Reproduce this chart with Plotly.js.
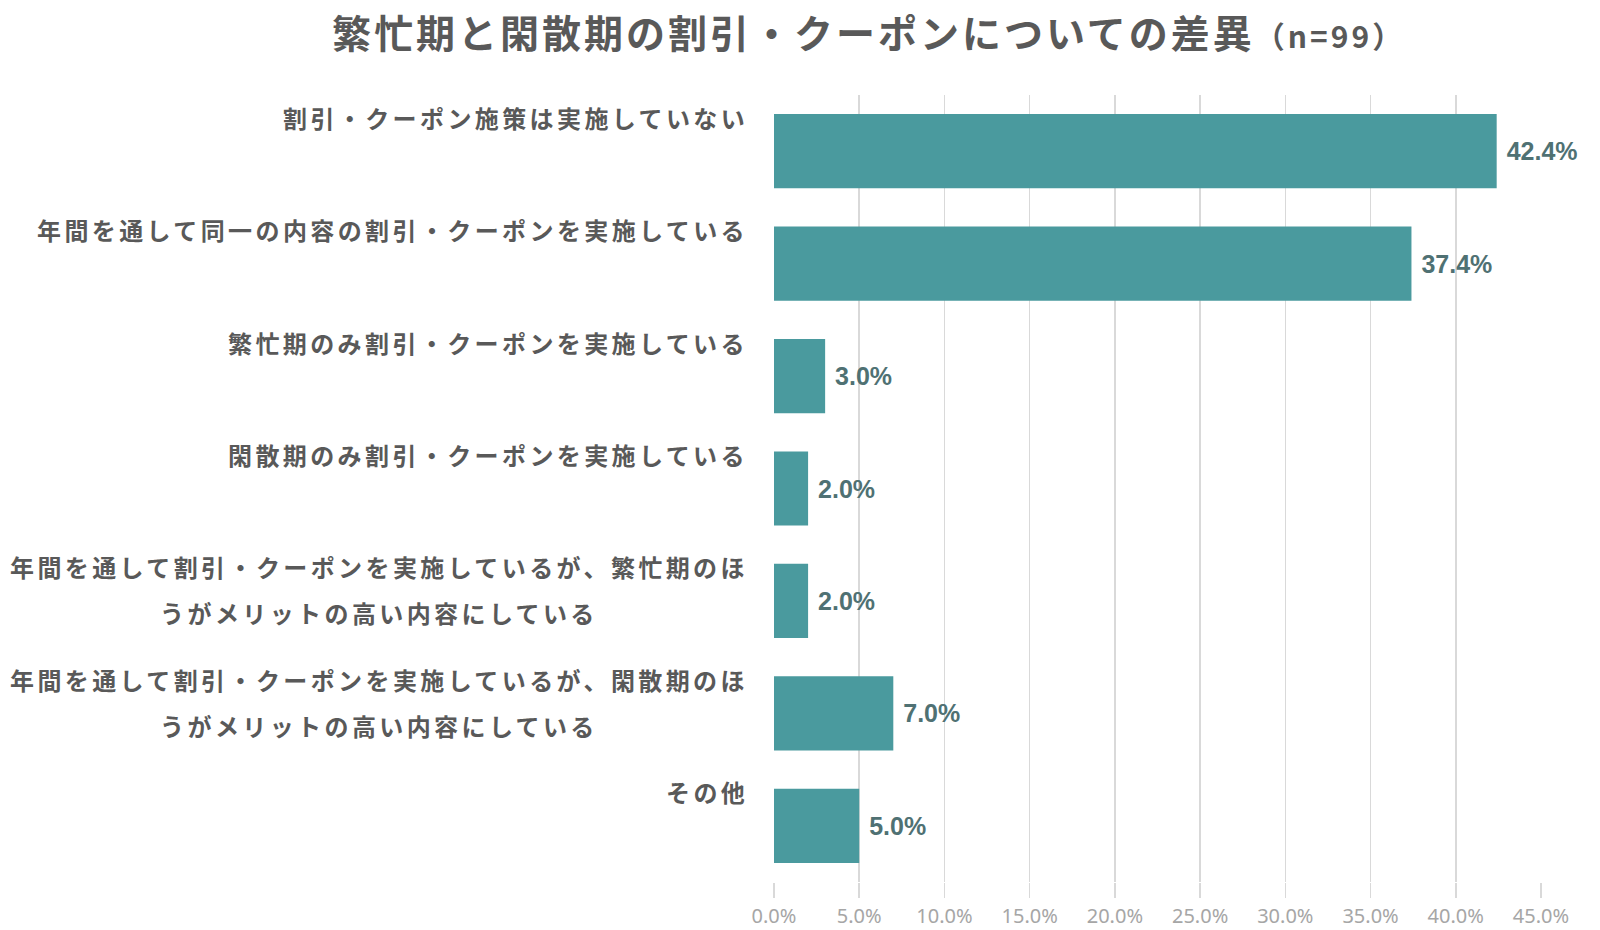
<!DOCTYPE html>
<html>
<head>
<meta charset="utf-8">
<script src="https://cdn.plot.ly/plotly-3.0.1.min.js"></script>
<style>
  html, body { margin: 0; padding: 0; background: #ffffff; }
  .annotation-text { letter-spacing: 3.4px; }
  .gtitle { letter-spacing: 3px; }
</style>
</head>
<body>
<div id="chart" style="width:1600px;height:930px;"></div>
<script>
const categories = [
  "割引・クーポン施策は実施していない",
  "年間を通して同一の内容の割引・クーポンを実施している",
  "繁忙期のみ割引・クーポンを実施している",
  "閑散期のみ割引・クーポンを実施している",
  "年間を通して割引・クーポンを実施しているが、繁忙期のほ<br>うがメリットの高い内容にしている",
  "年間を通して割引・クーポンを実施しているが、閑散期のほ<br>うがメリットの高い内容にしている",
  "その他"
];
const values = [42.4, 37.4, 3.0, 2.0, 2.0, 7.0, 5.0];
const titleMain = "繁忙期と閑散期の割引・クーポンについての差異";
const titleSub = "（n=99）";

const cjk = '"Noto Sans CJK JP", "Noto Sans", sans-serif';
const labelColor = '#595959';

const trace = {
  type: 'bar',
  orientation: 'h',
  x: values,
  y: categories,
  marker: { color: '#4a9a9e' },
  texttemplate: ' %{x:.1f}%',
  textposition: 'outside',
  constraintext: 'none',
  cliponaxis: false,
  textfont: { family: '"Liberation Sans", Arial, sans-serif', size: 25, color: '#4f7173', weight: 'bold' },
  hoverinfo: 'none'
};

const annotations = categories.map(function (c) {
  const lines = c.split('<br>');
  const multi = lines.length > 1;
  return {
    xref: 'paper', yref: 'y',
    x: 0, y: c,
    xanchor: 'right', yanchor: 'middle',
    xshift: -24,
    yshift: multi ? 11 : 34,
    align: 'center',
    showarrow: false,
    text: lines.map(function (l) { return '<span style="font-size:24px">' + l + '</span>'; }).join('<br>'),
    font: { family: cjk, size: multi ? 35 : 24, color: labelColor, weight: 'bold' }
  };
});

const layout = {
  width: 1600, height: 930,
  margin: { l: 774, r: 59, t: 95, b: 48 },
  paper_bgcolor: '#ffffff',
  plot_bgcolor: '#ffffff',
  showlegend: false,
  bargap: 0.34,
  title: {
    text: '<b>' + titleMain + '</b><span style="font-size:30px"><b>' + titleSub + '</b></span>',
    xref: 'container', yref: 'container',
    x: 332 / 1600, xanchor: 'left',
    y: 1 - 34 / 930, yanchor: 'middle',
    font: { family: cjk, size: 39, color: labelColor }
  },
  xaxis: {
    range: [0, 45],
    dtick: 5, tick0: 0,
    tickformat: '.1f', ticksuffix: '%',
    showgrid: true, gridcolor: '#d9d9d9', gridwidth: 1.5,
    zeroline: false,
    showline: false,
    ticks: 'outside', ticklen: 15, tickcolor: '#d9d9d9', tickwidth: 1.5,
    ticklabelstandoff: 1,
    tickfont: { family: '"Noto Sans", "Liberation Sans", sans-serif', size: 20, color: '#a6a6a6' },
    fixedrange: true
  },
  yaxis: {
    autorange: 'reversed',
    showticklabels: false,
    ticks: '',
    showgrid: false, zeroline: false, showline: false,
    fixedrange: true
  },
  annotations: annotations
};

Plotly.newPlot('chart', [trace], layout, { displayModeBar: false, staticPlot: true });
</script>
</body>
</html>
